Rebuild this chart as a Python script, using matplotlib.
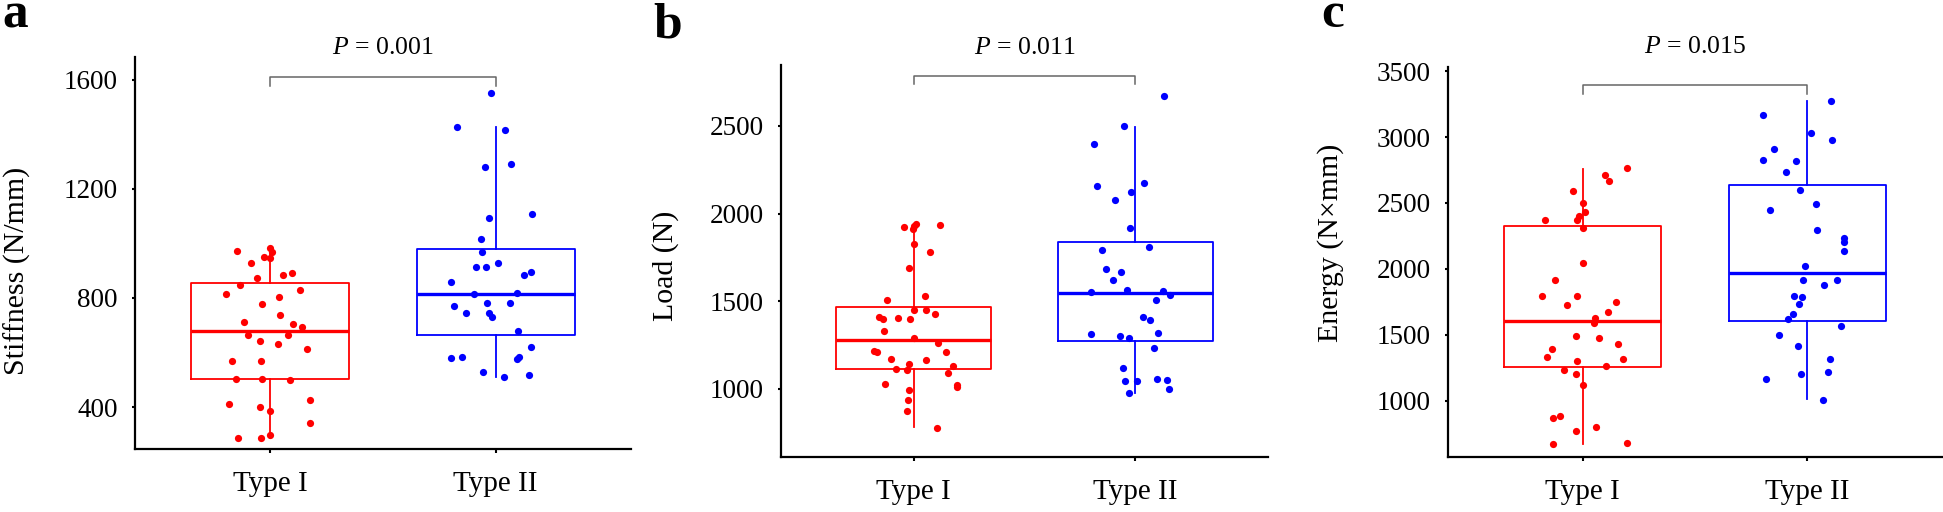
import matplotlib
matplotlib.use("Agg")
import matplotlib.pyplot as plt

plt.rcParams["font.family"] = ["Liberation Serif", "DejaVu Serif"]
plt.rcParams["mathtext.fontset"] = "custom"
plt.rcParams["mathtext.it"] = "Liberation Serif:italic"
plt.rcParams["mathtext.rm"] = "Liberation Serif"

groups = ["Type I", "Type II"]

# --- panel a: stiffness (N/mm) ---
stiff_t1 = [972, 985, 968, 952, 946, 927, 874, 884, 892, 846, 814, 831, 802, 778,
            737, 713, 704, 692, 665, 666, 644, 631, 613, 569, 569, 504, 504, 500,
            427, 411, 401, 385, 343, 299, 288, 285]
stiff_t1_jit = [-0.148, 0, 0.007, -0.028, 0, -0.085, -0.058, 0.058, 0.097, -0.135,
                -0.195, 0.13, 0.04, -0.037, 0.043, -0.115, 0.102, 0.141, -0.098,
                0.08, -0.045, 0.035, 0.163, -0.17, -0.039, -0.15, -0.037, 0.089,
                0.178, -0.182, -0.045, 0, 0.178, 0, -0.143, -0.043]
stiff_t2 = [1552, 1429, 1417, 1282, 1290, 1109, 1095, 1016, 967, 913, 912, 928, 885,
            895, 858, 813, 818, 770, 781, 780, 746, 746, 729, 679, 620, 578, 582,
            577, 585, 528, 511, 516]
stiff_t2_jit = [-0.022, -0.171, 0.041, -0.048, 0.069, 0.16, -0.032, -0.067, -0.063,
                -0.089, -0.045, 0.011, 0.126, 0.156, -0.2, -0.098, 0.093, -0.187,
                -0.037, 0.065, -0.132, -0.028, -0.017, 0.1, 0.156, -0.2, -0.15,
                0.093, 0.104, -0.056, 0.035, 0.148]
# whislo, q1, median, q3, whishi
stiff_box = [[286, 503, 679, 855, 987], [510, 664, 815, 980, 1427]]

# --- panel b: load (N) ---
load_t1 = [1922, 1926, 1939, 1911, 1935, 1827, 1779, 1688, 1530, 1508, 1452, 1449,
           1428, 1407, 1399, 1405, 1397, 1327, 1289, 1259, 1213, 1209, 1209, 1171,
           1162, 1141, 1127, 1110, 1108, 1091, 1027, 1023, 1010, 990, 933, 875, 776]
load_t1_jit = [-0.045, 0, 0.008, -0.002, 0.117, 0, 0.073, -0.023, 0.051, -0.122, 0,
               0.055, 0.096, -0.158, -0.137, -0.071, -0.017, -0.133, 0, 0.111, -0.18,
               -0.167, 0.145, -0.102, 0.056, -0.023, 0.179, -0.081, -0.032, 0.156,
               -0.128, 0.195, 0.197, -0.024, -0.028, -0.03, 0.105]
load_t2 = [2673, 2498, 2397, 2158, 2175, 2125, 2078, 1916, 1810, 1789, 1686, 1669,
           1620, 1551, 1561, 1557, 1534, 1508, 1407, 1392, 1310, 1302, 1287, 1316,
           1232, 1118, 1042, 1042, 1055, 1049, 977, 996]
load_t2_jit = [0.13, -0.049, -0.188, -0.171, 0.041, -0.017, -0.092, -0.023, 0.064,
               -0.15, -0.133, -0.064, -0.098, -0.201, -0.038, 0.126, 0.156, 0.094,
               0.036, 0.068, -0.201, -0.068, -0.03, 0.102, 0.085, -0.056, -0.045,
               0.009, 0.1, 0.145, -0.03, 0.154]
load_box = [[779, 1112, 1276, 1468, 1907], [975, 1274, 1544, 1836, 2496]]

# --- panel c: energy (N x mm) ---
energy_t1 = [2764, 2713, 2665, 2589, 2501, 2428, 2400, 2373, 2370, 2312, 2042, 1913,
             1795, 1795, 1729, 1749, 1674, 1626, 1588, 1495, 1477, 1434, 1394, 1333,
             1305, 1318, 1262, 1230, 1204, 1121, 886, 871, 803, 770, 682, 672]
energy_t1_jit = [0.196, 0.097, 0.118, -0.043, 0, 0.011, -0.015, -0.168, -0.024, 0,
                 0, -0.123, -0.183, -0.024, -0.071, 0.146, 0.114, 0.056, 0.05,
                 -0.032, 0.071, 0.155, -0.138, -0.159, -0.026, 0.178, 0.105, -0.084,
                 -0.032, 0, -0.103, -0.131, 0.058, -0.03, 0.196, -0.134]
energy_t2 = [3273, 3165, 3034, 2976, 2912, 2824, 2817, 2733, 2600, 2494, 2443, 2294,
             2234, 2203, 2138, 2024, 1913, 1916, 1878, 1797, 1787, 1734, 1661, 1618,
             1568, 1497, 1419, 1318, 1219, 1207, 1169, 1008]
energy_t2_jit = [0.107, -0.196, 0.015, 0.108, -0.146, -0.196, -0.05, -0.093, -0.032,
                 0.039, -0.166, 0.045, 0.163, 0.163, 0.164, -0.011, -0.019, 0.131,
                 0.075, -0.06, -0.024, -0.039, -0.062, -0.084, 0.151, -0.127, -0.043,
                 0.099, 0.092, -0.028, -0.183, 0.069]
energy_box = [[675, 1257, 1608, 2327, 2759], [1013, 1606, 1971, 2635, 3271]]

p_values = ["0.001", "0.011", "0.015"]
ylabels = ["Stiffness (N/mm)", "Load (N)", "Energy (N\u00d7mm)"]
panel_letters = ["a", "b", "c"]
yticks = [[400, 800, 1200, 1600], [1000, 1500, 2000, 2500],
          [1000, 1500, 2000, 2500, 3000, 3500]]

W, H = 1943, 512
fig = plt.figure(figsize=(W / 100, H / 100), dpi=100)

# pixel boxes: left, right, top, bottom
boxes_px = [(135, 631, 57, 449), (781, 1268, 65, 457), (1448, 1942, 67, 457)]
ylims = [(246, 1684), (610, 2848), (574, 3531)]
bracket_y = [(1610, 1579), (2785, 2738), (3394, 3326)]
ylabel_y = [0.455, 0.487, 0.549]
ptext_y = [1.023, 1.043, 1.051]
letter_px = [(15, 27), (668, 38), (1333, 27)]

panels = [
    (stiff_t1, stiff_t1_jit, stiff_t2, stiff_t2_jit, stiff_box),
    (load_t1, load_t1_jit, load_t2, load_t2_jit, load_box),
    (energy_t1, energy_t1_jit, energy_t2, energy_t2_jit, energy_box),
]
colors = ["#ff0000", "#0000ff"]

for i, (t1, j1, t2, j2, bstats) in enumerate(panels):
    l, r, t, b = boxes_px[i]
    ax = fig.add_axes([l / W, 1 - b / H, (r - l) / W, (b - t) / H])

    stats = []
    for k, s in enumerate(bstats):
        stats.append({"whislo": s[0], "q1": s[1], "med": s[2], "q3": s[3],
                      "whishi": s[4], "label": groups[k]})
    art = ax.bxp(stats, positions=[1, 2], widths=0.7, showcaps=False,
                 showfliers=False, patch_artist=False)
    for k in range(2):
        art["boxes"][k].set_color(colors[k])
        art["boxes"][k].set_linewidth(1.3)
        art["medians"][k].set_color(colors[k])
        art["medians"][k].set_linewidth(2.4)
        for w in art["whiskers"][2 * k:2 * k + 2]:
            w.set_color(colors[k])
            w.set_linewidth(1.3)

    ax.scatter([1 + x for x in j1], t1, s=27, color=colors[0], zorder=3, linewidths=0)
    ax.scatter([2 + x for x in j2], t2, s=27, color=colors[1], zorder=3, linewidths=0)

    # significance bracket
    hy, ly = bracket_y[i]
    ax.plot([1, 1, 2, 2], [ly, hy, hy, ly], color="#666666", lw=1.1, clip_on=False)
    ax.text(1.5, ptext_y[i], "$P$ = " + p_values[i], transform=ax.get_xaxis_transform(),
            ha="center", va="center", fontsize=18.5)

    ax.set_xlim(0.4, 2.6)
    ax.set_ylim(*ylims[i])
    ax.set_yticks(yticks[i])
    ax.set_xticks([1, 2])
    ax.set_xticklabels(groups, fontsize=21)
    ax.tick_params(axis="y", labelsize=19.5, length=2.5, width=1.5, pad=10)
    ax.tick_params(axis="x", length=3, width=1.5, pad=13)
    for side in ["top", "right"]:
        ax.spines[side].set_visible(False)
    for side in ["left", "bottom"]:
        ax.spines[side].set_linewidth(1.6)

    ax.set_ylabel(ylabels[i], fontsize=21.5)
    ax.yaxis.label.set_va("center")
    ax.yaxis.set_label_coords(-0.238, ylabel_y[i])

    lx, ly_ = letter_px[i]
    fig.text(lx / W, 1 - ly_ / H, panel_letters[i], fontsize=37, fontweight="bold",
             ha="center", va="baseline")

fig.savefig("out.png", dpi=100)
